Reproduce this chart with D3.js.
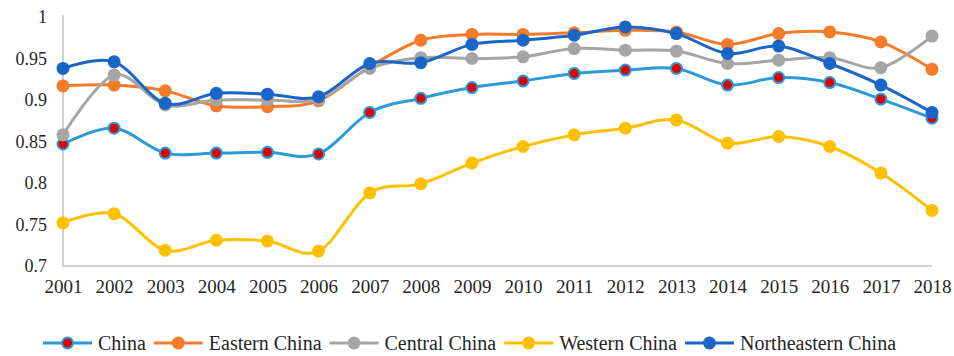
<!DOCTYPE html>
<html>
<head>
<meta charset="utf-8">
<script src="https://cdn.jsdelivr.net/npm/d3@7"></script>
<style>
  html, body { margin: 0; padding: 0; background: #ffffff; }
  svg { display: block; }
  svg text { font-family: 'Liberation Serif', 'Times New Roman', Tinos, serif; }
</style>
</head>
<body>
<svg id="chart" width="954" height="356"></svg>
<script>
const years = ["2001","2002","2003","2004","2005","2006","2007","2008","2009","2010","2011","2012","2013","2014","2015","2016","2017","2018"];
const yTicks = [0.7, 0.75, 0.8, 0.85, 0.9, 0.95, 1];
const seriesNames = ["China", "Eastern China", "Central China", "Western China", "Northeastern China"];
const china        = [0.847,0.866,0.836,0.836,0.837,0.835,0.885,0.902,0.915,0.923,0.932,0.936,0.938,0.918,0.927,0.921,0.901,0.878];
const easternChina = [0.917,0.918,0.911,0.893,0.892,0.899,0.940,0.972,0.979,0.979,0.981,0.984,0.982,0.967,0.980,0.982,0.970,0.937];
const centralChina = [0.858,0.930,0.894,0.900,0.900,0.901,0.938,0.951,0.950,0.952,0.962,0.960,0.959,0.944,0.948,0.951,0.939,0.977];
const westernChina = [0.752,0.763,0.719,0.731,0.730,0.718,0.788,0.799,0.824,0.844,0.858,0.866,0.876,0.848,0.856,0.844,0.812,0.767];
const northeasternChina = [0.938,0.946,0.896,0.908,0.907,0.904,0.944,0.945,0.967,0.972,0.978,0.988,0.980,0.956,0.965,0.944,0.918,0.885];

const seriesValues = [china, easternChina, centralChina, westernChina, northeasternChina];
const lineColors = ["#2a9ad9", "#f47b2a", "#a5a5a5", "#ffc000", "#1a66c8"];
const markerFills = ["#e00000", "#f47b2a", "#a5a5a5", "#ffc000", "#1a66c8"];
const FONT = "font-family:'Liberation Serif','Times New Roman',Tinos,serif;";

const svg = d3.select("#chart");
const plotLeft = 63, plotRight = 932, plotTop = 17, plotBottom = 266;

const x = d3.scalePoint().domain(years).range([plotLeft, plotRight]);
const y = d3.scaleLinear().domain([0.7, 1]).range([plotBottom, plotTop]);

// axes lines
svg.append("line").attr("x1", plotLeft).attr("x2", plotLeft).attr("y1", plotTop - 2).attr("y2", plotBottom)
  .attr("stroke", "#bfbfbf").attr("stroke-width", 1.5);
svg.append("line").attr("x1", plotLeft).attr("x2", plotRight).attr("y1", plotBottom).attr("y2", plotBottom)
  .attr("stroke", "#bfbfbf").attr("stroke-width", 1.5);

// y tick labels
const yAxis = d3.axisLeft(y).tickValues(yTicks).tickSize(0).tickPadding(16)
  .tickFormat(d => String(+d.toFixed(2)));
const gy = svg.append("g").attr("transform", `translate(${plotLeft},0)`).call(yAxis);
gy.attr("font-family", null).attr("font-size", null);
gy.select(".domain").remove();
gy.selectAll("text").attr("fill", "#262626").attr("style", FONT + "font-size:18px");

// x tick labels
const xAxis = d3.axisBottom(x).tickSize(0).tickPadding(14);
const gx = svg.append("g").attr("transform", `translate(0,${plotBottom})`).call(xAxis);
gx.attr("font-family", null).attr("font-size", null);
gx.select(".domain").remove();
gx.selectAll("text").attr("fill", "#262626").attr("style", FONT + "font-size:19px");

const line = d3.line()
  .x((d, i) => x(years[i]))
  .y(d => y(d))
  .curve(d3.curveCatmullRom.alpha(0));

seriesValues.forEach((vals, si) => {
  const g = svg.append("g");
  g.append("path").datum(vals).attr("d", line)
    .attr("fill", "none").attr("stroke", lineColors[si]).attr("stroke-width", 3);
  g.selectAll("circle").data(vals).join("circle")
    .attr("cx", (d, i) => x(years[i])).attr("cy", d => y(d))
    .attr("r", si === 0 ? 5.5 : 6.5)
    .attr("fill", markerFills[si])
    .attr("stroke", lineColors[si]).attr("stroke-width", si === 0 ? 2 : 0);
});

// legend
const legY = 343;
const leg = svg.append("g");
let lx = 43;
seriesNames.forEach((name, si) => {
  const g = leg.append("g");
  g.append("line").attr("x1", lx).attr("x2", lx + 49).attr("y1", legY).attr("y2", legY)
    .attr("stroke", lineColors[si]).attr("stroke-width", 3);
  g.append("circle").attr("cx", lx + 24.5).attr("cy", legY)
    .attr("r", si === 0 ? 5.5 : 6.5).attr("fill", markerFills[si])
    .attr("stroke", lineColors[si]).attr("stroke-width", si === 0 ? 2 : 0);
  const t = g.append("text").attr("x", lx + 55).attr("y", legY).attr("dy", "0.35em")
    .attr("fill", "#262626").attr("style", FONT + "font-size:20px").text(name);
  lx = lx + 55 + t.node().getComputedTextLength() + 8;
});
</script>
</body>
</html>
